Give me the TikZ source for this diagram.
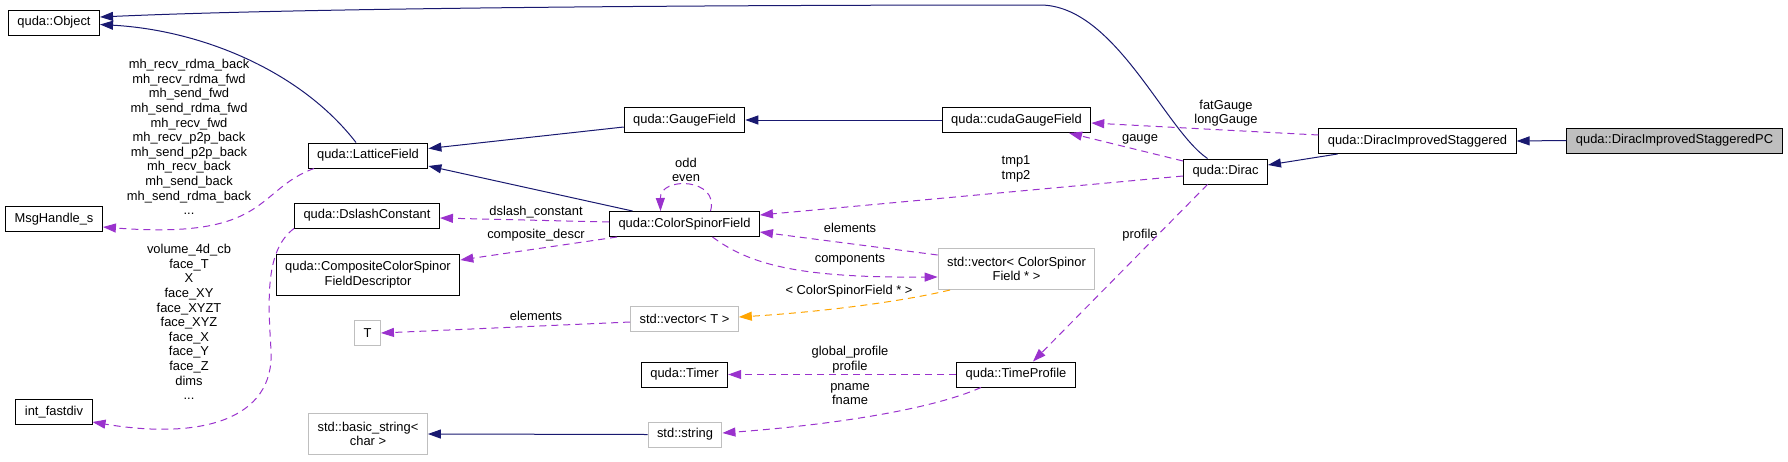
\documentclass[tikz,border=0pt]{standalone}
\usepackage{fontspec}
\setmainfont{Liberation Sans}
\usepackage{xcolor}
\usepackage{tikz}
\usetikzlibrary{arrows.meta,positioning,calc}
\definecolor{edgeblue}{RGB}{25,25,112}
\definecolor{edgepurple}{RGB}{154,50,205}
\definecolor{edgeorange}{RGB}{255,165,0}
\definecolor{boxgray}{RGB}{191,191,191}
\newcommand{\doxyfont}{\fontsize{12.9}{14.6}\selectfont}
\tikzset{
    classbox/.style={
        rectangle,
        draw=black,
        line width=1pt,
        minimum height=25pt,
        inner xsep=9pt,
        inner ysep=2pt,
        align=center,
        font=\doxyfont
    },
    extbox/.style={classbox, draw=boxgray},
    selfbox/.style={classbox, fill=boxgray},
    memberlabel/.style={align=center, inner sep=0pt, font=\doxyfont},
    inherit/.style={
        -{Triangle[length=13pt,width=9pt]},
        draw=edgeblue,
        line width=1pt
    },
    uses/.style={
        -{Triangle[length=13pt,width=9pt]},
        draw=edgepurple,
        line width=1pt,
        dash pattern=on 7pt off 5pt
    },
    templ/.style={uses, draw=edgeorange}
}

\begin{document}
\begin{tikzpicture}[x=1pt, y=-1pt]
\useasboundingbox (0,0) rectangle (1788,461);

% left column
\node[classbox] (object) at (54,22.5) {quda::Object};
\node[classbox] (msg-handle) at (54,219) {MsgHandle\_s};
\node[classbox] (int-fastdiv) at (54,412) {int\_fastdiv};

% second column
\node[classbox] (lattice-field) at (368,155.5) {quda::LatticeField};
\node[classbox] (dslash-constant) at (367,215.5) {quda::DslashConstant};
\node[classbox, minimum height=41pt] (composite-descr) at (368,274.5) {quda::CompositeColorSpinor\\FieldDescriptor};
\node[extbox] (t-param) at (367.5,333) {T};
\node[extbox, minimum height=41pt] (basic-string) at (368,434) {std::basic\_string<\\char >};

% third column
\node[classbox] (gauge-field) at (684.5,120) {quda::GaugeField};
\node[classbox] (color-spinor) at (684.5,224) {quda::ColorSpinorField};
\node[extbox] (vector-t) at (684.5,318.5) {std::vector< T >};
\node[classbox] (timer) at (684.5,374.5) {quda::Timer};
\node[extbox] (std-string) at (685,434.5) {std::string};

% fourth column
\node[classbox] (cuda-gauge) at (1016.5,120) {quda::cudaGaugeField};
\node[extbox, minimum height=41pt] (vector-csf) at (1016.5,269) {std::vector< ColorSpinor\\Field * >};
\node[classbox] (time-profile) at (1016,374.5) {quda::TimeProfile};

% Dirac classes
\node[classbox] (dirac) at (1225.5,171.5) {quda::Dirac};
\node[classbox] (dirac-is) at (1417.5,141) {quda::DiracImprovedStaggered};
\node[selfbox] (dirac-ispc) at (1674.5,140.5) {quda::DiracImprovedStaggeredPC};

% member labels
\node[memberlabel] (lbl-msg) at (189,137) {mh\_recv\_rdma\_back\\mh\_recv\_rdma\_fwd\\mh\_send\_fwd\\mh\_send\_rdma\_fwd\\mh\_recv\_fwd\\mh\_recv\_p2p\_back\\mh\_send\_p2p\_back\\mh\_recv\_back\\mh\_send\_back\\mh\_send\_rdma\_back\\...};
\node[memberlabel] (lbl-vol) at (189,322) {volume\_4d\_cb\\face\_T\\X\\face\_XY\\face\_XYZT\\face\_XYZ\\face\_X\\face\_Y\\face\_Z\\dims\\...};
\node[memberlabel] (lbl-odd) at (686,170) {odd\\even};
\node[memberlabel] (lbl-tmp) at (1016,169) {tmp1\\tmp2};
\node[memberlabel] (lbl-fat) at (1226,113) {fatGauge\\longGauge};
\node[memberlabel] (lbl-gauge) at (1140,139) {gauge};
\node[memberlabel] (lbl-profile) at (1140,235) {profile};
\node[memberlabel] (lbl-dslash) at (536,212) {dslash\_constant};
\node[memberlabel] (lbl-descr) at (536,235) {composite\_descr};
\node[memberlabel] (lbl-elem-t) at (536,316) {elements};
\node[memberlabel] (lbl-elem) at (850,228) {elements};
\node[memberlabel] (lbl-comp) at (850,260) {components};
\node[memberlabel] (lbl-templ) at (849,291) {< ColorSpinorField * >};
\node[memberlabel] (lbl-global) at (850,359.5) {global\_profile\\profile};
\node[memberlabel] (lbl-pname) at (850,394) {pname\\fname};

% inheritance
\draw[inherit] ([xshift=-12pt]lattice-field.north) .. controls (300,70) and (200,30) .. ([yshift=-2pt]object.east);
\draw[inherit] ([xshift=-18pt]dirac.north) .. controls (1165,130) and (1115,5) .. (1040,5) .. controls (700,5) and (300,8) .. ([yshift=5.5pt]object.east);
\draw[inherit] ([yshift=-7pt]gauge-field.west) -- ([yshift=7pt]lattice-field.east);
\draw[inherit] ([xshift=-52pt]color-spinor.north) -- ([yshift=-10.5pt]lattice-field.east);
\draw[inherit] (cuda-gauge.west) -- (gauge-field.east);
\draw[inherit] ([xshift=-80pt]dirac-is.south) -- ([yshift=6.5pt]dirac.east);
\draw[inherit] (dirac-ispc.west) -- (dirac-is.east);
\draw[inherit] (std-string.west) -- (basic-string.east);

% usage
\draw[uses] ([xshift=-54pt]lattice-field.south) .. controls (255,190) and (270,240) .. ([yshift=-8pt]msg-handle.east);
\draw[uses] (dslash-constant.south west) .. controls (265,250) and (268,300) .. (271,350) .. controls (275,420) and (200,440) .. ([yshift=-10pt]int-fastdiv.east);
\draw[uses] ([yshift=2pt]color-spinor.west) -- ([yshift=-2.5pt]dslash-constant.east);
\draw[uses] ([xshift=-67.5pt]color-spinor.south) -- ([yshift=14.5pt]composite-descr.east);
\draw[uses] ([yshift=-3.5pt]vector-t.west) -- (t-param.east);
\draw[uses] ([yshift=-4.5pt]dirac.west) -- ([yshift=9pt]color-spinor.east);
\draw[uses] ([yshift=10.5pt]dirac.west) -- ([xshift=52.5pt]cuda-gauge.south);
\draw[uses] ([yshift=6pt]dirac-is.west) -- ([yshift=-3pt]cuda-gauge.east);
\draw[uses] ([yshift=14pt]vector-csf.west) -- ([yshift=-8pt]color-spinor.east);
\draw[uses] ([xshift=28pt]color-spinor.south) .. controls (750,265) and (800,278) .. ([yshift=-8pt]vector-csf.west);
\draw[uses] ([xshift=26pt]color-spinor.north) .. controls (720,178) and (660,176) .. ([xshift=-24pt]color-spinor.north);
\draw[templ] ([xshift=-66.5pt]vector-csf.south) .. controls (900,302) and (820,312) .. ([yshift=1.5pt]vector-t.east);
\draw[uses] (time-profile.west) -- (timer.east);
\draw[uses] ([xshift=-35pt]time-profile.south) .. controls (930,410) and (830,425) .. ([yshift=1.5pt]std-string.east);
\draw[uses] ([xshift=-18pt]dirac.south) -- ([xshift=17pt]time-profile.north);
\end{tikzpicture}
\end{document}
